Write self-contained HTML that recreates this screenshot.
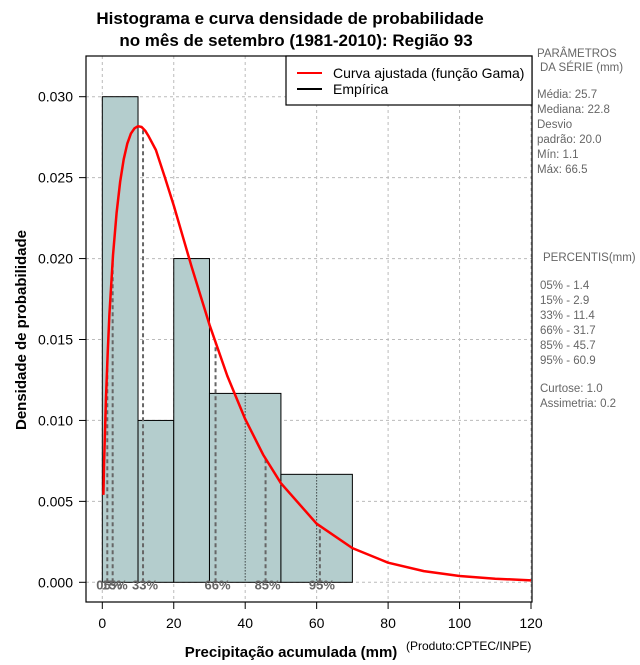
<!DOCTYPE html>
<html><head><meta charset="utf-8"><style>
body{margin:0;background:#fff;}
svg text{font-family:"Liberation Sans",sans-serif;}
</style></head><body>
<svg id="c" width="640" height="660" xmlns="http://www.w3.org/2000/svg">
<text x="290" y="24" font-size="17" font-weight="bold" text-anchor="middle">Histograma e curva densidade de probabilidade</text>
<text x="296" y="46" font-size="17" font-weight="bold" text-anchor="middle">no mês de setembro (1981-2010): Região 93</text>
<g id="grid"></g>
<g id="bars"></g>
<g id="pct"></g>
<path id="curve" fill="none" stroke="#f00" stroke-width="2.5" stroke-linejoin="round"/>
<rect x="86" y="56" width="446" height="546" fill="none" stroke="#000" stroke-width="1.2"/>
<g id="axes"></g>
<g>
<rect x="286" y="56" width="246" height="49" fill="#fff" stroke="#000" stroke-width="1.2"/>
<line x1="297" y1="73" x2="322" y2="73" stroke="#f00" stroke-width="2"/>
<text x="333" y="78" font-size="14">Curva ajustada (função Gama)</text>
<line x1="297" y1="89" x2="322" y2="89" stroke="#000" stroke-width="2"/>
<text x="333" y="94" font-size="14">Empírica</text>
</g>
<text x="291" y="657" font-size="15" font-weight="bold" text-anchor="middle">Precipitação acumulada (mm)</text>
<text x="406" y="650" font-size="12">(Produto:CPTEC/INPE)</text>
<text transform="translate(26,330) rotate(-90)" font-size="15" font-weight="bold" text-anchor="middle">Densidade de probabilidade</text>
<g font-size="11.5" fill="#666">
<text x="537" y="57">PARÂMETROS</text>
<text x="540" y="71">DA SÉRIE (mm)</text>
<text x="537" y="98">Média:  25.7</text>
<text x="537" y="113">Mediana:  22.8</text>
<text x="537" y="128">Desvio</text>
<text x="537" y="143">padrão:  20.0</text>
<text x="537" y="158">Mín:  1.1</text>
<text x="537" y="173">Máx:  66.5</text>
<text x="543" y="261">PERCENTIS(mm)</text>
<text x="540" y="289">05% -  1.4</text>
<text x="540" y="304">15% -  2.9</text>
<text x="540" y="319">33% -  11.4</text>
<text x="540" y="334">66% -  31.7</text>
<text x="540" y="349">85% -  45.7</text>
<text x="540" y="364">95% -  60.9</text>
<text x="540" y="392">Curtose:  1.0</text>
<text x="540" y="407">Assimetria:  0.2</text>
</g>
</svg>
<script>
const xTicks=[0,20,40,60,80,100,120];
const yTicks=[0,0.005,0.010,0.015,0.020,0.025,0.030];
const yTickLabels=["0.000","0.005","0.010","0.015","0.020","0.025","0.030"];
const binStart=[0,10,20,30,50];
const binEnd=[10,20,30,50,70];
const binDensity=[0.030,0.010,0.020,0.01167,0.00667];
const curveX=[0.3,0.5,1,1.5,2,3,4,5,6,7,8,9,10,11,12,13,15,17.5,20,22.5,25,30,35,40,45,50,60,70,80,90,100,110,120];
const curveY=[0.0054,0.0074,0.01125,0.01417,0.01654,0.0202,0.02283,0.02477,0.02613,0.0271,0.02772,0.02805,0.02818,0.02813,0.0279,0.02755,0.02671,0.02503,0.02327,0.02138,0.0195,0.01591,0.01275,0.01008,0.00789,0.00612,0.00362,0.00211,0.00121,0.00069,0.00039,0.00022,0.00012];
const pctValues=[1.4,2.9,11.4,31.7,45.7,60.9];
const pctHeights=[0.0137,0.0199,0.0280,0.01474,0.0076,0.00346];
const pctLabels=["05%","15%","33%","66%","85%","95%"];
const X=v=>102.3+v*(531-102.3)/120;
const Y=v=>582.3-v*(582.3-96.7)/0.03;
const NS="http://www.w3.org/2000/svg";
function mk(p,t,a){const e=document.createElementNS(NS,t);for(const k in a)e.setAttribute(k,a[k]);p.appendChild(e);return e;}
const grid=document.getElementById('grid'),axes=document.getElementById('axes');
xTicks.forEach((v,i)=>{
 const g=mk(grid,'line',{x1:X(v),x2:X(v),y1:56,y2:602,stroke:'#bbb','stroke-dasharray':'3,3'});
 
 
 const t=mk(axes,'line',{x1:X(v),x2:X(v),y1:602,y2:609,stroke:'#000'});
 
 
 const l=mk(axes,'text',{x:X(v),y:628,'font-size':14,'text-anchor':'middle'});l.textContent=v;
 
 
});
yTicks.forEach((v,i)=>{
 const g=mk(grid,'line',{x1:86,x2:532,y1:Y(v),y2:Y(v),stroke:'#bbb','stroke-dasharray':'3,3'});
 
 
 const t=mk(axes,'line',{x1:79,x2:86,y1:Y(v),y2:Y(v),stroke:'#000'});
 
 
 const l=mk(axes,'text',{x:73,y:Y(v)+5,'font-size':14,'text-anchor':'end'});l.textContent=yTickLabels[i];
 
 
});
const bars=document.getElementById('bars');
binStart.forEach((s,i)=>{
 const r=mk(bars,'rect',{x:X(s),y:Y(binDensity[i]),width:X(binEnd[i])-X(s),height:Y(0)-Y(binDensity[i]),fill:'#b4cdcd',stroke:'#000','stroke-width':1});
 
 
 for(let m=s+10;m<binEnd[i];m+=10){
  const d=mk(bars,'line',{x1:X(m),x2:X(m),y1:Y(binDensity[i]),y2:Y(0),stroke:'#000','stroke-dasharray':'1,2'});
  
  
 }
});
const pct=document.getElementById('pct');
pctValues.forEach((v,i)=>{
 const l=mk(pct,'line',{x1:X(v),x2:X(v),y1:Y(0),y2:Y(pctHeights[i]),stroke:'#666','stroke-width':2,'stroke-dasharray':'4,3'});
 
 
 const t=mk(pct,'text',{x:X(v)-11,y:Y(0)+7,'font-size':13,'font-weight':'bold',fill:'#666'});t.textContent=pctLabels[i];
 
 
});
document.getElementById('curve').setAttribute('d',curveX.map((x,i)=>(i?'L':'M')+X(x).toFixed(1)+','+Y(curveY[i]).toFixed(1)).join(''));
</script>
</body></html>
